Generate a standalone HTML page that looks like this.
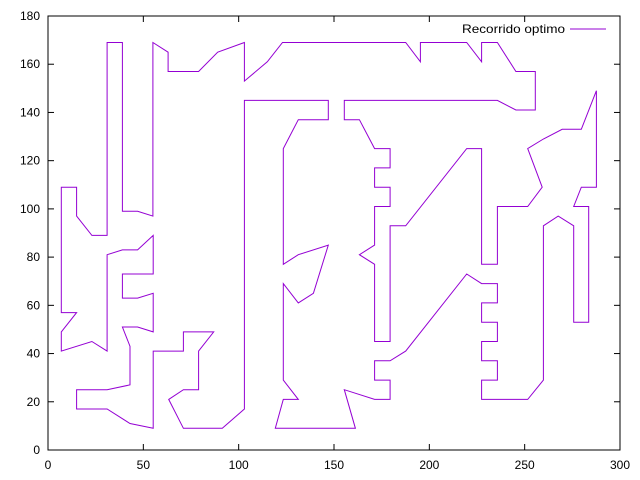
<!DOCTYPE html>
<html><head><meta charset="utf-8"><style>
body{margin:0;background:#fff}
svg{display:block}
text{font-family:"Liberation Sans",sans-serif;font-size:12px;fill:#000}
</style></head><body>
<svg id="chart" width="640" height="480">
<rect x="48" y="16" width="572" height="434" fill="none" stroke="#000" stroke-width="1"/>
<g id="axes"></g>
<g id="series"></g>
<g>
<text x="462" y="33" textLength="103" lengthAdjust="spacingAndGlyphs">Recorrido optimo</text>
<line x1="570" y1="29" x2="606" y2="29" stroke="#9400d3" stroke-width="1"/>
</g>
</svg>
<script>
const xTicks=[0,50,100,150,200,250,300];
const yTicks=[0,20,40,60,80,100,120,140,160,180];
const xs=[7,15,15,23,31,31,39,39,47,55,55,63,63,79,89,103,103,115,123,187.6,195.3,195.3,219.6,227.4,227.4,235.7,245.4,255.6,255.6,245.4,235.7,155.4,155.4,163.3,171.3,179.4,179.4,171.3,171.3,179.4,179.4,171.3,171.3,163.3,171.3,171.3,179.4,179.4,187.6,219.6,227.4,227.4,235.7,235.7,251.6,259.2,251.6,259.8,269.7,279.7,287.6,287.6,279.7,275.7,283.6,283.6,275.7,275.7,267.6,259.8,259.8,251.6,227.4,227.4,235.7,235.7,227.4,227.4,235.7,235.7,227.4,227.4,235.7,235.7,227.4,219.6,187.6,179.4,171.3,171.3,179.4,179.4,171.3,155.4,161.2,119.2,123.4,131.3,123.4,123.4,131.3,139.2,147,131.3,123.4,123.4,131.3,147,147,103,103,91.4,71,63.3,71,79,79,86.9,71,71,55.2,55.2,43,31,15,15,31,43,43,39,47,55.2,55.2,47,39,39,55.2,55.2,47,39,31,31,23,7,7,15,7];
const ys=[109,109,97,89,89,169,169,99,99,97,169,165,157,157,165,169,153,161,169,169,161,169,169,161,169,169,157,157,141,141,145,145,137,137,125,125,117,117,109,109,101,101,85,81,77,45,45,93,93,125,125,77,77,101,101,109,125,129,133,133,149,109,109,101,101,53,53,93,97,93,29,21,21,29,29,37,37,45,45,53,53,61,61,69,69,73,41,37,37,29,29,21,21,25,9,9,21,21,29,69,61,65,85,81,77,125,137,137,145,145,17,9,9,21,25,25,41,49,49,41,41,9,11,17,17,25,25,27,43,51,51,49,65,63,63,73,73,89,83,83,81,41,45,41,49,57,57];
const X=v=>48+v*572/300, Y=v=>450-v*434/180;
const NS='http://www.w3.org/2000/svg';
const axes=document.getElementById('axes');
xTicks.forEach(t=>{
  for(const [a,b] of [[450,444],[16,22]]){const l=document.createElementNS(NS,'line');
  l.setAttribute('x1',X(t));l.setAttribute('x2',X(t));l.setAttribute('y1',a);l.setAttribute('y2',b);l.setAttribute('stroke','#000');
  
  axes.appendChild(l);}
  const tx=document.createElementNS(NS,'text');tx.setAttribute('x',X(t));tx.setAttribute('y',469);tx.setAttribute('text-anchor','middle');tx.textContent=t;
  
  axes.appendChild(tx);
});
yTicks.forEach(t=>{
  for(const [a,b] of [[48,54],[620,614]]){const l=document.createElementNS(NS,'line');
  l.setAttribute('y1',Y(t));l.setAttribute('y2',Y(t));l.setAttribute('x1',a);l.setAttribute('x2',b);l.setAttribute('stroke','#000');
  
  axes.appendChild(l);}
  const tx=document.createElementNS(NS,'text');tx.setAttribute('x',40);tx.setAttribute('y',Y(t)+4);tx.setAttribute('text-anchor','end');tx.textContent=t;
  
  axes.appendChild(tx);
});
const p=document.createElementNS(NS,'polygon');
p.setAttribute('points',xs.map((x,i)=>X(x).toFixed(1)+','+Y(ys[i]).toFixed(1)).join(' '));
p.setAttribute('fill','none');p.setAttribute('stroke','#9400d3');p.setAttribute('stroke-width','1');


document.getElementById('series').appendChild(p);
</script>
</body></html>
